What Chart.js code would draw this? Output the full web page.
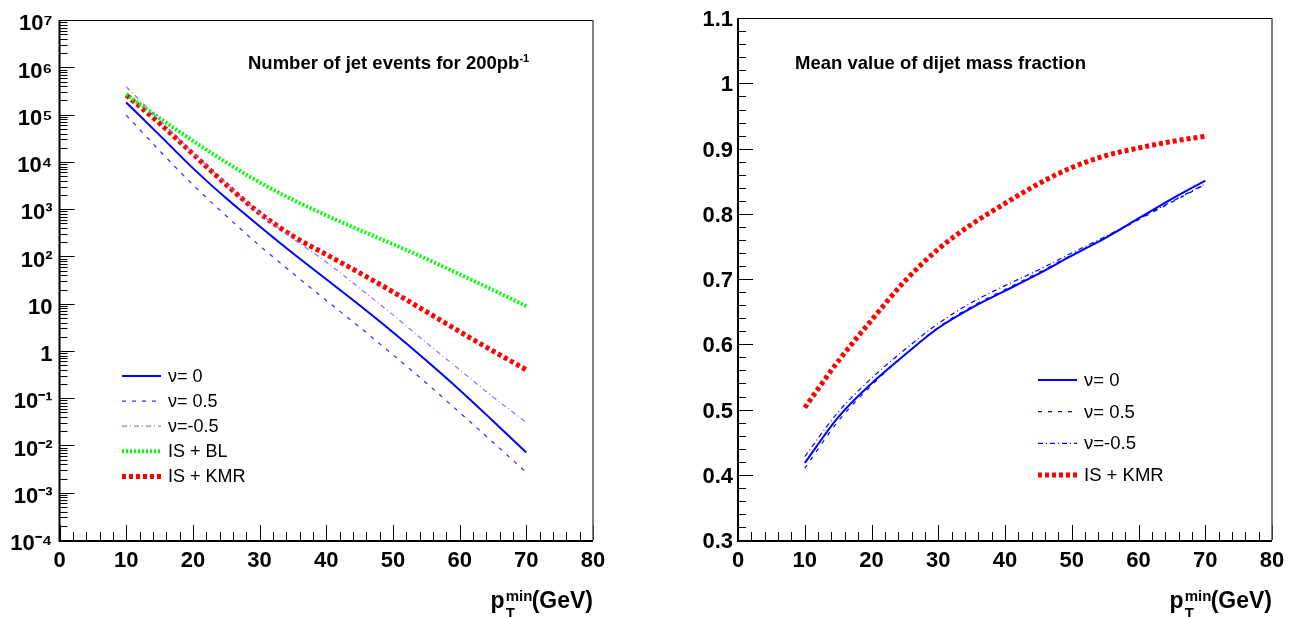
<!DOCTYPE html>
<html>
<head>
<meta charset="utf-8">
<script src="https://cdn.jsdelivr.net/npm/chart.js@4/dist/chart.umd.min.js"></script>
<style>
  html, body { margin:0; padding:0; background:#fff; }
  body { width:1299px; height:617px; position:relative; overflow:hidden; font-family:"Liberation Sans", Arial, sans-serif; }
  canvas { position:absolute; top:0; }
  .ttl { position:absolute; font-weight:bold; font-size:18.5px; line-height:18.5px; white-space:nowrap; color:#000; }
  .ttl sup { font-size:11px; line-height:0; vertical-align:7px; }
  .axt { position:absolute; font-weight:bold; font-size:23px; line-height:23px; white-space:nowrap; color:#000; }
  .stk { display:inline-block; position:relative; width:27px; height:0; }
  .stk span { position:absolute; left:1px; font-size:15px; line-height:15px; }
  .stk .mn { top:-19.7px; }
  .stk .tt { top:-2.7px; }
</style>
</head>
<body>
<canvas id="leftChart" width="650" height="617" style="left:0"></canvas>
<canvas id="rightChart" width="649" height="617" style="left:650px"></canvas>

<div class="ttl" style="left:248px; top:54px">Number of jet events for 200pb<sup>-1</sup></div>
<div class="ttl" style="left:795px; top:54px">Mean value of dijet mass fraction</div>
<div class="axt" style="right:706px; top:589px">p<span class="stk"><span class="mn">min</span><span class="tt">T</span></span>(GeV)</div>
<div class="axt" style="right:27px; top:589px">p<span class="stk"><span class="mn">min</span><span class="tt">T</span></span>(GeV)</div>

<script>
// ---------------- data ----------------
const xValues = [10, 15, 20, 25, 30, 35, 40, 45, 50, 55, 60, 65, 70];

// left: number of jet events for 200 pb^-1
const eventsNu0   = [1.82e5, 3.7e4, 7.4e3, 1.7e3, 437, 117, 33, 9.3, 2.5, 0.63, 0.15, 0.033, 0.0071];
const eventsNuP05 = [9.8e4, 1.74e4, 3.3e3, 720, 170, 44, 11.7, 3.2, 0.83, 0.21, 0.05, 0.0117, 0.0027];
const eventsNuM05 = [3.9e5, 7.8e4, 1.58e4, 3.5e3, 830, 240, 76, 21.4, 5.8, 1.5, 0.40, 0.107, 0.031];
const eventsBL    = [2.7e5, 8.5e4, 2.8e4, 9.8e3, 3.7e3, 1.58e3, 740, 363, 182, 89, 42, 19.5, 8.9];
const eventsKMR   = [2.6e5, 6.6e4, 1.48e4, 3.3e3, 830, 270, 110, 45, 17.8, 6.8, 2.57, 1.0, 0.40];

// right: mean value of dijet mass fraction
const fracNu0   = [0.418, 0.488, 0.540, 0.584, 0.625, 0.656, 0.682, 0.708, 0.736, 0.763, 0.793, 0.823, 0.851];
const fracNuP05 = [0.410, 0.482, 0.537, 0.584, 0.626, 0.658, 0.684, 0.710, 0.737, 0.763, 0.791, 0.818, 0.845];
const fracNuM05 = [0.428, 0.496, 0.548, 0.592, 0.632, 0.664, 0.690, 0.714, 0.740, 0.765, 0.792, 0.819, 0.846];
const fracKMR   = [0.503, 0.574, 0.637, 0.697, 0.746, 0.784, 0.816, 0.846, 0.871, 0.889, 0.901, 0.911, 0.919];

const labelsLeft  = ['ν= 0', 'ν= 0.5', 'ν=-0.5', 'IS + BL', 'IS + KMR'];
const labelsRight = ['ν= 0', 'ν= 0.5', 'ν=-0.5', 'IS + KMR'];

const xTickValues = [0, 10, 20, 30, 40, 50, 60, 70, 80];
const xTickLabels = ['0', '10', '20', '30', '40', '50', '60', '70', '80'];
const yTickValuesLeft = [1e-4, 1e-3, 1e-2, 1e-1, 1, 10, 1e2, 1e3, 1e4, 1e5, 1e6, 1e7];
const yTickLabelsLeft = ['10⁻⁴', '10⁻³', '10⁻²', '10⁻¹', '1', '10', '10²', '10³', '10⁴', '10⁵', '10⁶', '10⁷'];
const yTickValuesRight = [0.3, 0.4, 0.5, 0.6, 0.7, 0.8, 0.9, 1.0, 1.1];
const yTickLabelsRight = ['0.3', '0.4', '0.5', '0.6', '0.7', '0.8', '0.9', '1', '1.1'];

// ---------------- helpers ----------------
const FONT = '"Liberation Sans", Arial, sans-serif';
Chart.defaults.font.family = FONT;
Chart.defaults.color = '#000';

const pts = arr => xValues.map((x, i) => ({ x: x, y: arr[i] }));
function ds(label, arr, color, width, dash) {
  return { label, data: pts(arr), borderColor: color, backgroundColor: color, borderWidth: width,
           borderDash: dash, pointRadius: 0, fill: false, cubicInterpolationMode: 'monotone', borderCapStyle: 'butt' };
}

const rootFrame = {
  id: 'rootFrame',
  afterDatasetsDraw(chart, args, o) {
    const { ctx, chartArea: { left, right, top, bottom }, scales: { x, y } } = chart;
    ctx.save();
    ctx.setLineDash([]);
    ctx.strokeStyle = '#000';
    ctx.lineWidth = 1;
    ctx.beginPath();
    for (let v = x.min; v <= x.max + 1e-9; v += o.xMinor) {
      const px = Math.round(x.getPixelForValue(v)) + 0.5;
      const isMajor = Math.abs(v / o.xMajor - Math.round(v / o.xMajor)) < 1e-6;
      ctx.moveTo(px, bottom);
      ctx.lineTo(px, bottom - (isMajor ? o.majorLen : o.minorLen));
    }
    if (y.type === 'logarithmic') {
      const k0 = Math.round(Math.log10(y.min)), k1 = Math.round(Math.log10(y.max));
      for (let k = k0; k <= k1; k++) {
        for (let m = 1; m <= 9; m++) {
          const v = m * Math.pow(10, k);
          if (v > y.max * 1.0001) break;
          const py = Math.round(y.getPixelForValue(v)) + 0.5;
          ctx.moveTo(left, py);
          ctx.lineTo(left + (m === 1 ? o.majorLen : o.minorLen), py);
        }
      }
    } else {
      const n = Math.round((y.max - y.min) / o.yMinor);
      for (let i = 0; i <= n; i++) {
        const v = y.min + i * o.yMinor;
        const py = Math.round(y.getPixelForValue(v)) + 0.5;
        const isMajor = i % Math.round(o.yMajor / o.yMinor) === 0;
        ctx.moveTo(left, py);
        ctx.lineTo(left + (isMajor ? o.majorLen : o.minorLen), py);
      }
    }
    ctx.stroke();
    ctx.lineWidth = 1;
    ctx.strokeStyle = '#000';
    ctx.beginPath();
    ctx.moveTo(left, Math.round(top) + 0.5); ctx.lineTo(right, Math.round(top) + 0.5);
    ctx.stroke();
    ctx.strokeStyle = '#555';
    ctx.lineWidth = 1.5;
    ctx.beginPath();
    ctx.moveTo(right, top); ctx.lineTo(right, bottom);
    ctx.stroke();
    ctx.strokeStyle = '#000';
    ctx.lineWidth = 2;
    ctx.beginPath();
    ctx.moveTo(left, top); ctx.lineTo(left, bottom + 1); ctx.lineTo(right, bottom + 1);
    ctx.stroke();
    ctx.restore();
  }
};

const rootLegend = {
  id: 'rootLegend',
  afterDraw(chart, args, o) {
    const { ctx } = chart;
    ctx.save();
    ctx.font = o.font;
    ctx.textBaseline = 'middle';
    ctx.textAlign = 'left';
    chart.data.datasets.forEach((d, i) => {
      const yy = o.y + i * o.row;
      ctx.setLineDash(d.borderDash || []);
      ctx.lineCap = 'butt';
      ctx.strokeStyle = d.borderColor;
      ctx.lineWidth = d.borderWidth;
      ctx.beginPath();
      ctx.moveTo(o.x, yy); ctx.lineTo(o.x + o.len, yy);
      ctx.stroke();
      ctx.setLineDash([]);
      ctx.fillStyle = '#000';
      ctx.fillText(d.label, o.x + o.len + o.gap, yy + 1);
    });
    ctx.restore();
  }
};

function xScale() {
  return {
    type: 'linear', min: 0, max: 80,
    afterBuildTicks: s => { s.ticks = xTickValues.map(v => ({ value: v })); },
    afterFit: s => { s.height = 77; },
    grid: { display: false, drawTicks: false },
    border: { display: false },
    ticks: { font: { size: 22, weight: 'bold' }, color: '#000', padding: 8, maxRotation: 0,
             callback: v => xTickLabels[xTickValues.indexOf(v)] }
  };
}

// ---------------- left chart ----------------
new Chart(document.getElementById('leftChart'), {
  type: 'line',
  data: {
    datasets: [
      ds(labelsLeft[0], eventsNu0, '#0000ff', 2, []),
      ds(labelsLeft[1], eventsNuP05, '#2b2bff', 1.2, [4, 6]),
      ds(labelsLeft[2], eventsNuM05, '#7a7aff', 1.2, [5, 3, 1, 3]),
      ds(labelsLeft[3], eventsBL, '#00ff00', 4, [2, 2]),
      ds(labelsLeft[4], eventsKMR, '#ff0000', 5, [4, 3])
    ]
  },
  options: {
    responsive: false, animation: false, events: [],
    layout: { padding: { left: 0, right: 57, top: 18, bottom: 0 } },
    plugins: {
      legend: { display: false }, tooltip: { enabled: false },
      rootFrame: { xMinor: 2, xMajor: 10, majorLen: 15, minorLen: 8 },
      rootLegend: { x: 122, y: 376, row: 25.1, len: 39, gap: 7, font: '18px ' + FONT }
    },
    scales: {
      x: xScale(),
      y: {
        type: 'logarithmic', min: 1e-4, max: 1e7,
        afterBuildTicks: s => { s.ticks = yTickValuesLeft.map(v => ({ value: v, major: true })); },
        afterFit: s => { s.width = 59.5; },
        grid: { display: false, drawTicks: false },
        border: { display: false },
        ticks: { font: { size: 22, weight: 'bold' }, color: '#000', padding: 7, labelOffset: 4, autoSkip: false,
                 callback: v => { const i = yTickValuesLeft.findIndex(t => Math.abs(Math.log10(t) - Math.log10(v)) < 1e-6); return i >= 0 ? yTickLabelsLeft[i] : ''; } }
      }
    }
  },
  plugins: [rootFrame, rootLegend]
});

// ---------------- right chart ----------------
new Chart(document.getElementById('rightChart'), {
  type: 'line',
  data: {
    datasets: [
      ds(labelsRight[0], fracNu0, '#0000ff', 2, []),
      ds(labelsRight[1], fracNuP05, '#0000ff', 1.2, [4, 6]),
      ds(labelsRight[2], fracNuM05, '#0000ff', 1.2, [5, 3, 1, 3]),
      ds(labelsRight[3], fracKMR, '#ff0000', 5, [4, 3])
    ]
  },
  options: {
    responsive: false, animation: false, events: [],
    layout: { padding: { left: 0, right: 27, top: 18, bottom: 0 } },
    plugins: {
      legend: { display: false }, tooltip: { enabled: false },
      rootFrame: { xMinor: 2, xMajor: 10, yMinor: 0.02, yMajor: 0.1, majorLen: 15, minorLen: 8 },
      rootLegend: { x: 388, y: 380, row: 31.7, len: 39, gap: 7, font: '18.5px ' + FONT }
    },
    scales: {
      x: xScale(),
      y: {
        type: 'linear', min: 0.3, max: 1.1,
        afterBuildTicks: s => { s.ticks = yTickValuesRight.map(v => ({ value: v })); },
        afterFit: s => { s.width = 88; },
        grid: { display: false, drawTicks: false },
        border: { display: false },
        ticks: { font: { size: 22, weight: 'bold' }, color: '#000', padding: 5, labelOffset: 2, autoSkip: false,
                 callback: v => { const i = yTickValuesRight.findIndex(t => Math.abs(t - v) < 1e-6); return i >= 0 ? yTickLabelsRight[i] : ''; } }
      }
    }
  },
  plugins: [rootFrame, rootLegend]
});
</script>
</body>
</html>
